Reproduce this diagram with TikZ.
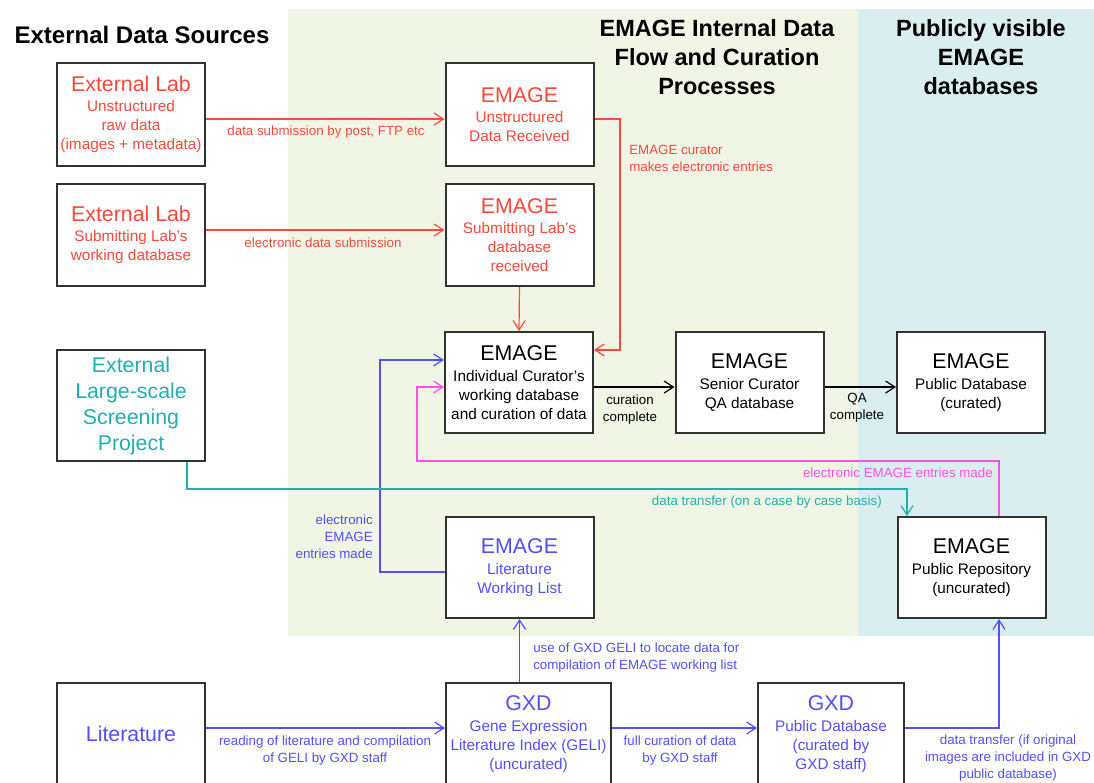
\documentclass[tikz,border=0pt]{standalone}
\usepackage{fontspec}
\setmainfont{Liberation Sans}
\usetikzlibrary{arrows.meta}
\definecolor{emred}{RGB}{250,72,60}
\definecolor{emteal}{RGB}{32,176,176}
\definecolor{emblue}{RGB}{80,80,255}
\definecolor{emmag}{RGB}{255,80,230}
\definecolor{emgreen}{RGB}{241,245,230}
\definecolor{emcyan}{RGB}{218,238,240}
\definecolor{emline}{RGB}{50,50,50}
\newcommand{\hd}[1]{{\fontsize{16}{19}\selectfont #1}}

\begin{document}
\begin{tikzpicture}[x=0.75pt,y=-0.75pt,>={Straight Barb[length=7pt,width=9pt]}]
            \tikzstyle{box}=[draw=emline,line width=1.5pt,fill=white,inner sep=0pt,align=center,minimum width=111pt,font=\fontsize{11.5}{14.25}\selectfont];
            \tikzstyle{lbl}=[inner sep=0pt,align=center,font=\fontsize{10}{12.75}\selectfont];
            \tikzstyle{ttl}=[inner sep=0pt,align=center,font=\fontsize{18}{21.75}\selectfont\bfseries];
            \tikzstyle{conn}=[line width=0.9pt,->];
            \useasboundingbox (0,0) rectangle (1094,782);
            \fill[emgreen] (288,9) rectangle (858,636);
            \fill[emcyan] (858,9) rectangle (1094,636);

            \node[ttl] (srcttl) at (142,35) {External Data Sources};
            \node[ttl,font=\fontsize{17.6}{21.75}\selectfont\bfseries] (intttl) at (717,57) {EMAGE Internal Data\\Flow and Curation\\Processes};
            \node[ttl,font=\fontsize{17.6}{21.75}\selectfont\bfseries] (pubttl) at (981,57) {Publicly visible\\EMAGE\\databases};

            \node[box,minimum height=77.25pt,text=emred] (extA) at (131,114.5) {\hd{External Lab}\\[1pt]Unstructured\\raw data\\(images + metadata)};
            \node[box,minimum height=76.5pt,text=emred] (extB) at (131,235) {\hd{External Lab}\\[1pt]Submitting Lab's\\working database};
            \node[box,minimum height=83.25pt,text=emteal,font=\fontsize{16}{19.5}\selectfont] (extC) at (131,405.5) {External\\Large-scale\\Screening\\Project};
            \node[box,minimum height=76.5pt,text=emblue,font=\fontsize{16}{19}\selectfont] (lit) at (131,734) {Literature};

            \node[box,minimum height=77.25pt,text=emred] (unstr) at (519.5,114.5) {\hd{EMAGE}\\[1pt]Unstructured\\Data Received};
            \node[box,minimum height=76.5pt,text=emred] (subm) at (519.5,235) {\hd{EMAGE}\\[1pt]Submitting Lab's\\database\\received};
            \node[box,minimum height=75.75pt] (indiv) at (519,382.5) {\hd{EMAGE}\\[1pt]Individual Curator's\\working database\\and curation of data};
            \node[box,minimum height=75.75pt] (senior) at (749.5,382.5) {\hd{EMAGE}\\[1pt]Senior Curator\\QA database};
            \node[box,minimum height=75.75pt] (pubdb) at (971,382.5) {\hd{EMAGE}\\[1pt]Public Database\\(curated)};
            \node[box,minimum height=75.75pt,text=emblue] (litlist) at (519.5,567.5) {\hd{EMAGE}\\[1pt]Literature\\Working List};
            \node[box,minimum height=75.75pt] (pubrepo) at (971.5,567.5) {\hd{EMAGE}\\[1pt]Public Repository\\(uncurated)};
            \node[box,minimum height=76.5pt,minimum width=123.75pt,text=emblue] (geli) at (528.5,734) {\hd{GXD}\\[1pt]Gene Expression\\Literature Index (GELI)\\(uncurated)};
            \node[box,minimum height=76.5pt,minimum width=109.5pt,text=emblue] (gxdpub) at (831,734) {\hd{GXD}\\[1pt]Public Database\\(curated by\\GXD staff)};

            \coordinate (redbend) at (620,240);
            \coordinate (bluebend) at (380,470);
            \coordinate (magbend) at (417,461);
            \coordinate (tealbend) at (907,489);

            \draw[conn,emred] ([yshift=-3.4pt]extA.east) -- ([yshift=-3.4pt]unstr.west);
            \draw[conn,emred] ([yshift=3.75pt]extB.east) -- ([yshift=3.75pt]subm.west);
            \draw[conn,emred] ([yshift=-3.4pt]unstr.east) -| (redbend) |- ([yshift=24.4pt]indiv.east);
            \draw[conn,emred] (subm.south) -- (indiv.north);
            \draw[conn,emblue] ([yshift=-3.4pt]litlist.west) -| (bluebend) |- ([yshift=16.9pt]indiv.west);
            \draw[conn,emmag] ([xshift=20.6pt]pubrepo.north) |- (magbend) |- ([yshift=-3.4pt]indiv.west);
            \draw[conn,emteal] ([xshift=42pt]extC.south) |- (tealbend) -- (tealbend |- pubrepo.north);
            \draw[conn,black] ([yshift=-3.4pt]indiv.east) -- ([yshift=-3.4pt]senior.west);
            \draw[conn,black] ([yshift=-3.4pt]senior.east) -- ([yshift=-3.4pt]pubdb.west);
            \draw[conn,emblue] (litlist.south |- geli.north) -- (litlist.south);
            \draw[conn,emblue] ([yshift=4.5pt]lit.east) -- ([yshift=4.5pt]geli.west);
            \draw[conn,emblue] ([yshift=4.5pt]geli.east) -- ([yshift=4.5pt]gxdpub.west);
            \draw[conn,emblue] ([yshift=4.5pt]gxdpub.east) -| ([xshift=20.6pt]pubrepo.south);

            \node[lbl,text=emred] (postlbl) at (326,132) {data submission by post, FTP etc};
            \node[lbl,text=emred] (eleclbl) at (323,243) {electronic data submission};
            \node[lbl,text=emred,anchor=west,align=left] (curlbl) at (629,158.5) {EMAGE curator\\makes electronic entries};
            \node[lbl] (donelbl) at (630,410) {curation\\complete};
            \node[lbl] (qalbl) at (857,408) {QA\\complete};
            \node[lbl,text=emmag,anchor=east] (maglbl) at (993,473) {electronic EMAGE entries made};
            \node[lbl,text=emteal,anchor=east] (teallbl) at (882,502) {data transfer (on a case by case basis)};
            \node[lbl,text=emblue,anchor=east,align=right] (entlbl) at (373,537) {electronic\\EMAGE\\entries made};
            \node[lbl,text=emblue,anchor=west,align=left] (uselbl) at (533,658) {use of GXD GELI to locate data for\\compilation of EMAGE working list};
            \node[lbl,text=emblue] (readlbl) at (325,750.5) {reading of literature and compilation\\of GELI by GXD staff};
            \node[lbl,text=emblue] (fulllbl) at (680,750.5) {full curation of data\\by GXD staff};
            \node[lbl,text=emblue] (xferlbl) at (1008,758.5) {data transfer (if original\\images are included in GXD\\public database)};
        \end{tikzpicture}
\end{document}
